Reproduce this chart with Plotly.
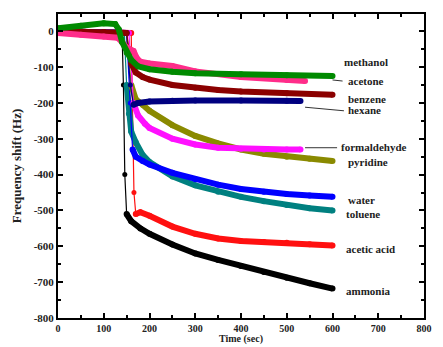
import plotly.graph_objects as go

# Frequency shift responses of the sensor to different vapours
names = ["ammonia", "acetic acid", "toluene", "water", "pyridine",
         "formaldehyde", "hexane", "benzene", "acetone", "methanol"]

t_ammonia = [0, 100, 140, 143, 146, 150, 160, 180, 200, 250, 300, 350, 400, 450, 500, 550, 600]
v_ammonia = [0, -2, -5, -150, -400, -510, -530, -550, -565, -595, -620, -638, -655, -672, -688, -703, -718]

t_acetic = [0, 100, 160, 163, 166, 170, 180, 200, 250, 300, 350, 400, 450, 500, 550, 600]
v_acetic = [0, -2, -5, -200, -450, -510, -505, -515, -545, -565, -578, -585, -588, -590, -594, -598]

t_toluene = [0, 100, 145, 150, 155, 160, 170, 185, 200, 250, 300, 350, 400, 450, 500, 550, 600]
v_toluene = [0, -2, -5, -150, -230, -280, -310, -345, -365, -405, -430, -448, -462, -474, -485, -494, -500]

t_water = [0, 100, 150, 158, 163, 170, 185, 200, 250, 300, 350, 400, 450, 500, 550, 600]
v_water = [0, -2, -5, -200, -330, -350, -362, -372, -395, -413, -428, -440, -448, -454, -458, -462]

t_pyridine = [0, 100, 150, 160, 170, 185, 200, 250, 300, 350, 400, 450, 500, 550, 600]
v_pyridine = [0, -2, -5, -150, -190, -205, -222, -262, -292, -313, -330, -342, -350, -356, -362]

t_formaldehyde = [0, 100, 155, 165, 175, 190, 200, 250, 300, 350, 400, 450, 500, 530]
v_formaldehyde = [0, -2, -5, -200, -235, -258, -270, -300, -316, -325, -328, -330, -330, -330]

t_hexane = [0, 100, 150, 158, 165, 175, 200, 250, 300, 400, 500, 530]
v_hexane = [0, -2, -5, -150, -205, -200, -196, -194, -193, -193, -194, -195]

t_benzene = [0, 100, 150, 160, 170, 185, 200, 250, 300, 350, 400, 500, 600]
v_benzene = [0, -2, -5, -90, -115, -128, -135, -150, -158, -164, -168, -173, -177]

t_acetone = [0, 50, 100, 130, 140, 150, 165, 172, 180, 200, 250, 300, 400, 500, 540]
v_acetone = [-5, -10, -15, -18, -30, -45, -55, -75, -85, -90, -97, -112, -128, -136, -139]

t_methanol = [0, 50, 100, 125, 133, 140, 150, 160, 175, 200, 250, 300, 400, 500, 600]
v_methanol = [8, 15, 22, 20, 5, -30, -60, -80, -98, -106, -113, -117, -120, -123, -125]

times = [t_ammonia, t_acetic, t_toluene, t_water, t_pyridine,
         t_formaldehyde, t_hexane, t_benzene, t_acetone, t_methanol]
values = [v_ammonia, v_acetic, v_toluene, v_water, v_pyridine,
          v_formaldehyde, v_hexane, v_benzene, v_acetone, v_methanol]
colors = ["#000000", "#ff1010", "#008080", "#0000ff", "#8a8a00",
          "#ff10ff", "#000080", "#8b0000", "#ff2d8a", "#008a00"]

# index range of the fast (sparsely sampled) drop after vapour injection
drop_start = [2, 2, 2, 2, 2, 2, 2, 2, None, None]
drop_end = [5, 5, 3, 4, 3, 3, 4, 3, None, None]

# label placement (time, shift) next to the curve ends
label_t = [625, 625, 625, 630, 630, 614, 630, 630, 630, 620]
label_v = [-725, -608, -510, -472, -366, -323, -220, -190, -139, -86]

x_ticks = [0, 100, 200, 300, 400, 500, 600, 700, 800]
y_ticks = [0, -100, -200, -300, -400, -500, -600, -700, -800]

font_family = "Liberation Serif"

fig = go.Figure()
for t, v, c, n, i0, i1 in zip(times, values, colors, names, drop_start, drop_end):
    if i0 is None:
        segments = [(t, v, 6)]
    else:
        segments = [(t[:i0 + 1], v[:i0 + 1], 6),
                    (t[i0:i1 + 1], v[i0:i1 + 1], 1.2),
                    (t[i1:], v[i1:], 6)]
    for st, sv, w in segments:
        fig.add_trace(go.Scatter(x=st, y=sv, mode="lines+markers", name=n,
                                 line=dict(color=c, width=w),
                                 marker=dict(color=c, size=6 if w > 2 else 5),
                                 showlegend=False))

for n, lt, lv in zip(names, label_t, label_v):
    fig.add_annotation(x=lt, y=lv, text="<b>" + n + "</b>", showarrow=False,
                       xanchor="left", yanchor="middle",
                       font=dict(family=font_family, size=11, color="#222"))

# short leader lines to some labels
leaders = [(600, -136, 622, -139),
           (540, -212, 625, -222),
           (540, -325, 610, -325)]
for x0, y0, x1, y1 in leaders:
    fig.add_shape(type="line", x0=x0, y0=y0, x1=x1, y1=y1, xref="x", yref="y",
                  line=dict(color="#333", width=1))

fig.add_annotation(x=0.5, y=-0.095, xref="paper", yref="paper",
                   text="<b>Time (sec)</b>", showarrow=False, yanchor="bottom",
                   font=dict(family=font_family, size=10, color="#222"))
fig.add_annotation(x=-0.14, y=0.5, xref="paper", yref="paper",
                   text="<b>Frequency shift (Hz)</b>", showarrow=False,
                   textangle=-90, font=dict(family=font_family, size=13, color="#222"))

axis_common = dict(showgrid=False, zeroline=False, showline=True, linecolor="black",
                   linewidth=2, mirror="ticks", ticks="inside", ticklen=5,
                   tickwidth=1.5, tickcolor="black",
                   tickfont=dict(family=font_family, size=11, color="#222"),
                   minor=dict(ticks="inside", ticklen=3, tickcolor="black", dtick=50))

fig.update_layout(
    width=443, height=347,
    margin=dict(l=58, r=11, t=14, b=29),
    paper_bgcolor="white", plot_bgcolor="white",
    xaxis=dict(range=[0, 800], tickvals=x_ticks,
               ticktext=["<b>%d</b>" % v for v in x_ticks], **axis_common),
    yaxis=dict(range=[-800, 48], tickvals=y_ticks,
               ticktext=["<b>%d</b>" % v for v in y_ticks], **axis_common),
)
fig.update_xaxes(tickfont=dict(size=10), ticklabelstandoff=0)

fig.write_html("out.html")
